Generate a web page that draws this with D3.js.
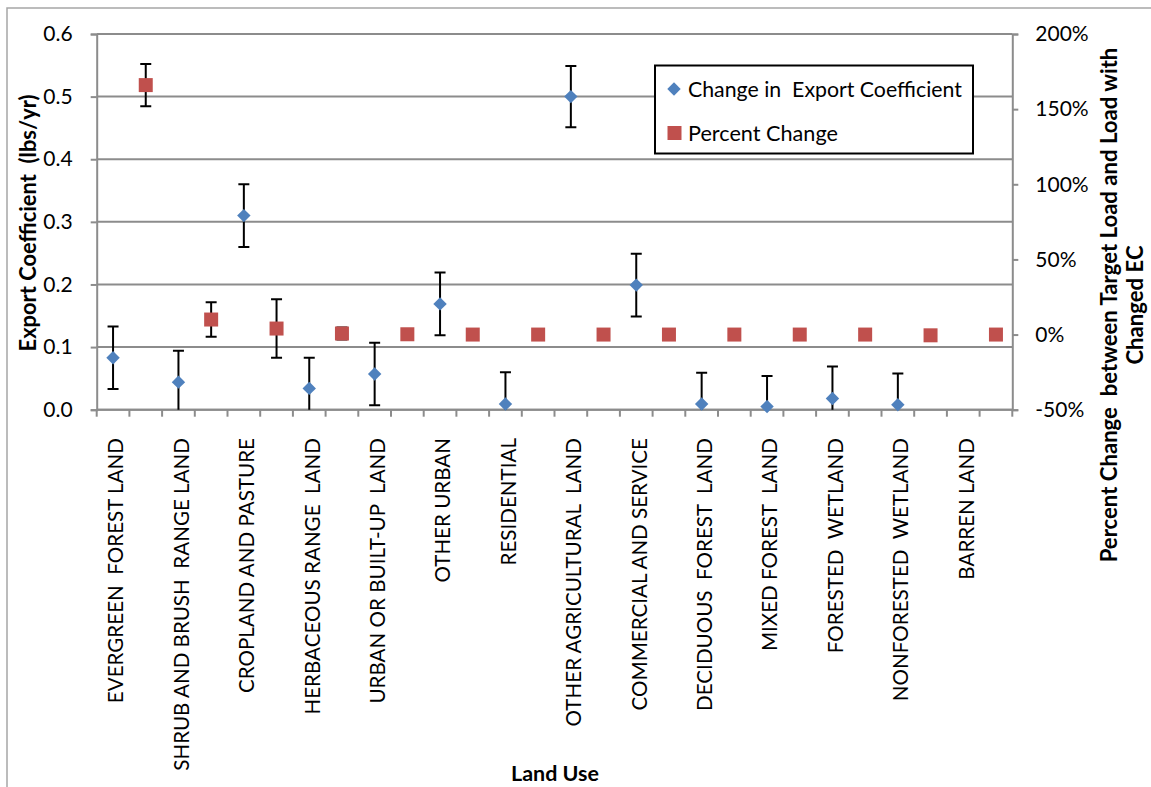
<!DOCTYPE html>
<html>
<head>
<meta charset="utf-8">
<script src="https://cdn.jsdelivr.net/npm/d3@7"></script>
<style>
  body { margin: 0; background: #fff; }
  text { font-family: Lato, "Open Sans", sans-serif; fill: #000; }
</style>
</head>
<body>
<div id="vis"></div>
<script>
// categories (Excel puts each land use in two slots: coefficient, then percent)
const landUse = ["EVERGREEN  FOREST LAND", "SHRUB AND BRUSH  RANGE LAND", "CROPLAND AND PASTURE",
  "HERBACEOUS RANGE  LAND", "URBAN OR BUILT-UP  LAND", "OTHER URBAN", "RESIDENTIAL",
  "OTHER AGRICULTURAL  LAND", "COMMERCIAL AND SERVICE", "DECIDUOUS  FOREST  LAND",
  "MIXED FOREST  LAND", "FORESTED  WETLAND", "NONFORESTED  WETLAND", "BARREN LAND"];

// change in export coefficient (lbs/yr) and its error
const ecChange = [0.083, 0.044, 0.310, 0.034, 0.057, 0.169, 0.009, 0.500, 0.199, 0.009, 0.005, 0.018, 0.008, null];
const ecError  = [0.050, 0.050, 0.050, 0.049, 0.050, 0.050, 0.051, 0.049, 0.050, 0.050, 0.049, 0.051, 0.050, null];

// percent change between target load and load with changed EC
const pctChange = [1.66, 0.10, 0.04, 0.007, 0.002, 0, 0, 0, 0, 0, 0, 0, -0.005, 0];
const pctError  = [0.14, 0.115, 0.195, 0.04, 0.025, 0, 0, 0, 0, 0, 0, 0, 0, 0];

const leftTicks = [0, 0.1, 0.2, 0.3, 0.4, 0.5, 0.6];
const rightTicks = [-0.5, 0, 0.5, 1, 1.5, 2];

const width = 1151, height = 787;
const plot = {left: 96.7, right: 1012.3, top: 34, bottom: 409.7};
const blue = '#4F81BD', red = '#C0504D', grid = '#8c8c8c';

const svg = d3.select('#vis').append('svg')
  .attr('width', width)
  .attr('height', height);

// scale a text's font so it spans the length it has in the reference
function fit(sel, len) {
  const base = parseFloat(sel.style('font-size'));
  const w = sel.node().getComputedTextLength();
  sel.style('font-size', (base * len / w).toFixed(2) + 'px');
  return sel;
}

// chart area border
svg.append('rect')
  .attr('x', 7).attr('y', 8)
  .attr('width', 1200).attr('height', 820)
  .attr('fill', 'none').attr('stroke', '#a6a6a6').attr('stroke-width', 1.5);

// scales
const slots = d3.range(landUse.length * 2);
const xSlot = d3.scaleBand().domain(slots).range([plot.left, plot.right]);
const slotMid = i => xSlot(i) + xSlot.bandwidth() / 2;
const yScale = d3.scaleLinear().domain([0, 0.6]).range([plot.bottom, plot.top]);
const y2Scale = d3.scaleLinear().domain([-0.5, 2]).range([plot.bottom, plot.top]);

// gridlines
svg.append('g').selectAll('line')
  .data(leftTicks)
  .enter().append('line')
  .attr('x1', plot.left).attr('x2', plot.right)
  .attr('y1', d => yScale(d)).attr('y2', d => yScale(d))
  .attr('stroke', grid).attr('stroke-width', 2);

// left axis
const leftAxis = svg.append('g')
  .attr('transform', 'translate(' + plot.left + ',0)')
  .call(d3.axisLeft(yScale).tickValues(leftTicks).tickFormat(d3.format('.1f')).tickSize(6).tickPadding(18));
// right axis
const pct = d3.format('.0%');
const rightAxis = svg.append('g')
  .attr('transform', 'translate(' + plot.right + ',0)')
  .call(d3.axisRight(y2Scale).tickValues(rightTicks).tickFormat(d => pct(d).replace('\u2212', '-')).tickSize(6).tickPadding(17));
// bottom axis: a tick between every slot
const tickX = slots.map(i => xSlot(i)).concat([plot.right]);
const bottomAxis = svg.append('g');
bottomAxis.append('line')
  .attr('x1', plot.left).attr('x2', plot.right)
  .attr('y1', plot.bottom).attr('y2', plot.bottom)
  .attr('stroke', grid).attr('stroke-width', 2);
bottomAxis.selectAll('line.tick')
  .data(tickX)
  .enter().append('line')
  .attr('class', 'tick')
  .attr('x1', d => d).attr('x2', d => d)
  .attr('y1', plot.bottom).attr('y2', plot.bottom + 7)
  .attr('stroke', grid).attr('stroke-width', 2);

[leftAxis, rightAxis].forEach(a => {
  a.select('.domain').attr('stroke', grid).attr('stroke-width', 2);
  a.selectAll('.tick line').attr('stroke', grid).attr('stroke-width', 2);
  a.selectAll('.tick text').style('font-size', '21px').style('font-family', 'Lato, sans-serif').attr('fill', '#000');
});

// category labels
svg.append('g').selectAll('text')
  .data(landUse)
  .enter().append('text')
  .attr('transform', (d, i) => 'translate(' + (slotMid(i * 2) + 3) + ',438) rotate(-90)')
  .attr('text-anchor', 'end')
  .attr('dy', '0.36em')
  .style('font-size', '20.6px')
  .style('white-space', 'pre')
  .text(d => d);

// error bars
const defs = svg.append('defs');
defs.append('clipPath').attr('id', 'plotClip')
  .append('rect')
  .attr('x', plot.left - 20).attr('y', plot.top)
  .attr('width', plot.right - plot.left + 40).attr('height', plot.bottom - plot.top);

const errG = svg.append('g').attr('clip-path', 'url(#plotClip)');
function errorBars(values, errors, scale, offset) {
  const rows = values.map((v, i) => ({v, e: errors[i], x: slotMid(i * 2 + offset)}))
    .filter(d => d.v !== null && d.e > 0);
  const g = errG.append('g').attr('stroke', '#000').attr('stroke-width', 2);
  g.selectAll('line.stem').data(rows).enter().append('line')
    .attr('x1', d => d.x).attr('x2', d => d.x)
    .attr('y1', d => scale(d.v + d.e)).attr('y2', d => scale(d.v - d.e));
  g.selectAll('line.capTop').data(rows).enter().append('line')
    .attr('x1', d => d.x - 5.5).attr('x2', d => d.x + 5.5)
    .attr('y1', d => scale(d.v + d.e)).attr('y2', d => scale(d.v + d.e));
  g.selectAll('line.capBot').data(rows).enter().append('line')
    .attr('x1', d => d.x - 5.5).attr('x2', d => d.x + 5.5)
    .attr('y1', d => scale(d.v - d.e)).attr('y2', d => scale(d.v - d.e));
}
errorBars(ecChange, ecError, yScale, 0);
errorBars(pctChange, pctError, y2Scale, 1);

// markers
const diamond = d3.symbol(d3.symbolSquare, 90);
const square = d3.symbol(d3.symbolSquare, 196);

svg.append('g').selectAll('path')
  .data(ecChange.map((v, i) => ({v, i})).filter(d => d.v !== null))
  .enter().append('path')
  .attr('d', diamond)
  .attr('transform', d => 'translate(' + slotMid(d.i * 2) + ',' + yScale(d.v) + ') rotate(45)')
  .attr('fill', blue);

svg.append('g').selectAll('path')
  .data(pctChange.map((v, i) => ({v, i})))
  .enter().append('path')
  .attr('d', square)
  .attr('transform', d => 'translate(' + slotMid(d.i * 2 + 1) + ',' + y2Scale(d.v) + ')')
  .attr('fill', red);

// axis titles
fit(svg.append('text')
  .attr('transform', 'translate(28,223) rotate(-90)')
  .attr('text-anchor', 'middle').attr('dy', '0.36em')
  .style('font-size', '20px').style('font-weight', 'bold').style('white-space', 'pre')
  .text('Export Coefficient  (lbs/yr)'), 257);

const rightTitle = fit(svg.append('text')
  .attr('transform', 'translate(1109,305) rotate(-90)')
  .attr('text-anchor', 'middle').attr('dy', '0.36em')
  .style('font-size', '20px').style('font-weight', 'bold').style('white-space', 'pre')
  .text('Percent Change  between Target Load and Load with'), 515);
svg.append('text')
  .attr('transform', 'translate(1135,305) rotate(-90)')
  .attr('text-anchor', 'middle').attr('dy', '0.36em')
  .style('font-size', rightTitle.style('font-size')).style('font-weight', 'bold')
  .text('Changed EC');

fit(svg.append('text')
  .attr('x', 555).attr('y', 773)
  .attr('text-anchor', 'middle').attr('dy', '0.36em')
  .style('font-size', '20px').style('font-weight', 'bold')
  .text('Land Use'), 88);

// legend
const legend = svg.append('g');
legend.append('rect')
  .attr('x', 655).attr('y', 65.5).attr('width', 318).attr('height', 88)
  .attr('fill', '#fff').attr('stroke', '#000').attr('stroke-width', 2);
legend.append('path').attr('d', diamond).attr('fill', blue)
  .attr('transform', 'translate(674,89) rotate(45)');
legend.append('path').attr('d', square).attr('fill', red)
  .attr('transform', 'translate(674.5,133)');
fit(legend.append('text').attr('x', 688).attr('y', 89).attr('dy', '0.36em')
  .style('font-size', '20px').style('white-space', 'pre')
  .text('Change in  Export Coefficient'), 274);
fit(legend.append('text').attr('x', 688).attr('y', 133).attr('dy', '0.36em')
  .style('font-size', '20px')
  .text('Percent Change'), 150);
</script>
</body>
</html>
